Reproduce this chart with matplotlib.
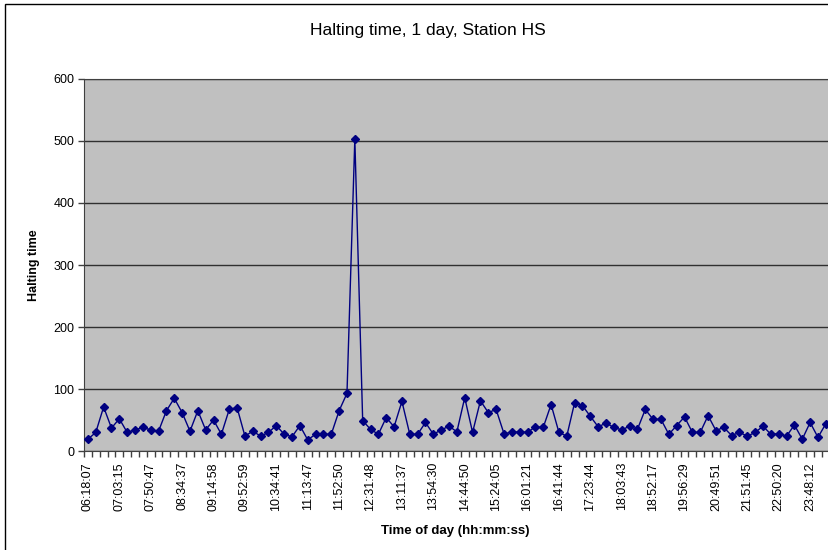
import matplotlib
matplotlib.use('Agg')
import matplotlib.pyplot as plt
from matplotlib.patches import Rectangle
from matplotlib.ticker import FixedLocator, MultipleLocator

plt.rcParams['font.family'] = ['Liberation Sans', 'DejaVu Sans']

###########################
# Data
###########################

# halting time per train (one value per category on the x axis)
halting = [19, 30, 71, 37, 52, 30, 34, 38, 34, 32, 65, 85, 62, 32, 65, 34,
           50, 27, 67, 70, 24, 32, 24, 30, 41, 27, 23, 41, 18, 27, 27, 27,
           65, 93, 503, 49, 35, 27, 54, 39, 80, 27, 27, 46, 27, 34, 40, 31,
           86, 30, 81, 62, 67, 28, 30, 31, 30, 39, 38, 75, 30, 24, 78, 73,
           56, 39, 45, 38, 34, 40, 35, 67, 51, 51, 27, 41, 55, 30, 30, 57,
           33, 38, 25, 30, 24, 30, 40, 27, 28, 24, 42, 19, 46, 22, 44]

# only every 4th category carries a label
tick_labels = ['06:18:07', '07:03:15', '07:50:47', '08:34:37', '09:14:58',
               '09:52:59', '10:34:41', '11:13:47', '11:52:50', '12:31:48',
               '13:11:37', '13:54:30', '14:44:50', '15:24:05', '16:01:21',
               '16:41:44', '17:23:44', '18:03:43', '18:52:17', '19:56:29',
               '20:49:51', '21:51:45', '22:50:20', '23:48:12']
label_step = 4

###########################
# Plot
###########################

fig = plt.figure(figsize=(8.29, 5.5), dpi=100)
fig.patch.set_facecolor('white')

# chart area frame (runs off the right and bottom edges)
fig.patches.append(Rectangle((5 / 829, -0.05), 1.1, 1.05 - 4 / 550,
                             transform=fig.transFigure, fill=False,
                             edgecolor='black', linewidth=1))

ax = fig.add_axes([84 / 829, 99 / 550, 96 * 7.85 / 829, 372 / 550])
ax.set_facecolor('#c0c0c0')

x = list(range(len(halting)))
ax.plot(x, halting, color='#000080', linewidth=1, marker='D',
        markersize=3.8, zorder=3)

ax.set_xlim(-0.5, 95.5)
ax.set_ylim(0, 600)

# y axis
ax.yaxis.set_major_locator(MultipleLocator(100))
ax.grid(axis='y', color='#303030', linewidth=1)
ax.set_axisbelow(True)
ax.tick_params(axis='y', direction='out', length=4, width=1,
               color='#404040', labelsize=9, pad=3)

# x axis: tick marks between categories, labels every 4th category
ax.xaxis.set_major_locator(FixedLocator(range(0, len(tick_labels) * label_step, label_step)))
ax.set_xticklabels(tick_labels, rotation=90, fontsize=9)
ax.xaxis.set_minor_locator(FixedLocator([i - 0.5 for i in range(len(halting) + 1)]))
ax.tick_params(axis='x', which='major', length=0, pad=8)
ax.tick_params(axis='x', which='minor', direction='out', length=4,
               width=1, color='#404040')

for side in ['left', 'bottom', 'top']:
    ax.spines[side].set_color('#404040')
ax.spines['right'].set_visible(False)

fig.text(428 / 829, 1 - 31 / 550, 'Halting time, 1 day, Station HS',
         fontsize=12.5, ha='center', va='center')
ax.set_ylabel('Halting time', fontsize=9, fontweight='bold')
ax.yaxis.set_label_coords(-(84 - 40) / (96 * 7.85), 0.5)
ax.set_xlabel('Time of day (hh:mm:ss)', fontsize=9.5, fontweight='bold')
ax.xaxis.set_label_coords((455 - 84) / (96 * 7.85), -0.2)

fig.savefig('out.png', dpi=100)
